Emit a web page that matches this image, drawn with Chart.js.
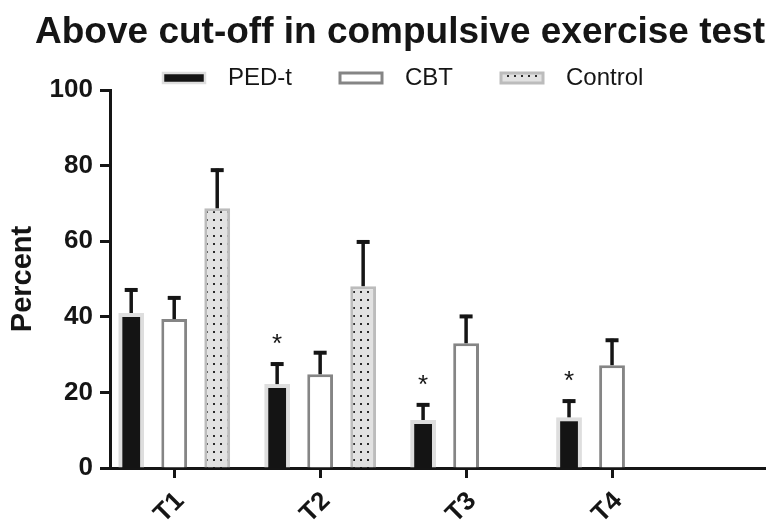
<!DOCTYPE html>
<html>
<head>
<meta charset="utf-8">
<script src="https://cdn.jsdelivr.net/npm/chart.js@4.4.1/dist/chart.umd.min.js"></script>
<style>
  html, body { margin: 0; padding: 0; background: #fff; }
  #wrap { width: 766px; height: 520px; }
</style>
</head>
<body>
<div id="wrap"><canvas id="chart"></canvas></div>
<script>
// values (percent above cut-off, error = SEM above the bar)
var timepoints = ['T1', 'T2', 'T3', 'T4'];
var seriesNames = ['PED-t', 'CBT', 'Control'];
var pedT = [41.0, 22.2, 12.7, 13.4];
var pedTErr = [6.1, 5.3, 4.0, 4.3];
var cbt = [39.4, 24.8, 33.0, 27.2];
var cbtErr = [5.6, 5.7, 7.1, 6.6];
var control = [68.7, 48.1, null, null];
var controlErr = [10.1, 11.7, null, null];
var pedStars = [false, true, true, true];
var yTickValues = [0, 20, 40, 60, 80, 100];

var ink = '#151515';
var font = '"Liberation Sans", Arial, Helvetica, sans-serif';

function dots() {
  var c = document.createElement('canvas');
  c.width = 7; c.height = 8;
  var g = c.getContext('2d');
  g.fillStyle = '#e2e2e2';
  g.fillRect(0, 0, 7, 8);
  g.fillStyle = '#2a2a2a';
  g.fillRect(3, 3, 2, 2);
  return g.createPattern(c, 'repeat');
}
var dotFill = dots();

function pts(arr) {
  return arr.map(function (v, i) { return { x: i, y: v }; });
}

var styles = [
  { fill: '#141414', stroke: '#dedede', width: 4 },
  { fill: '#ffffff', stroke: '#858585', width: 3 },
  { fill: dotFill, stroke: '#bcbcbc', width: 3 }
];

var errorBars = {
  id: 'errorBars',
  afterDatasetsDraw: function (chart) {
    var ctx = chart.ctx, ys = chart.scales.y;
    chart.data.datasets.forEach(function (ds, di) {
      var meta = chart.getDatasetMeta(di);
      meta.data.forEach(function (bar, i) {
        var v = ds.data[i].y, e = ds.errors[i];
        if (v == null || e == null) return;
        var top = ys.getPixelForValue(v + e);
        ctx.save();
        ctx.strokeStyle = ink;
        ctx.lineWidth = 3.5;
        ctx.beginPath();
        ctx.moveTo(bar.x, bar.y);
        ctx.lineTo(bar.x, top - 1.5);
        ctx.stroke();
        ctx.lineWidth = 4;
        ctx.beginPath();
        ctx.moveTo(bar.x - 6.5, top);
        ctx.lineTo(bar.x + 6.5, top);
        ctx.stroke();
        if (ds.stars && ds.stars[i]) {
          ctx.fillStyle = ink;
          ctx.font = '26px ' + font;
          ctx.textAlign = 'center';
          ctx.textBaseline = 'alphabetic';
          ctx.fillText('*', bar.x, top - 12);
        }
        ctx.restore();
      });
    });
  }
};

var titleLegend = {
  id: 'titleLegend',
  afterDraw: function (chart) {
    var ctx = chart.ctx;
    ctx.save();
    ctx.fillStyle = ink;
    ctx.font = 'bold 37px ' + font;
    ctx.textAlign = 'center';
    ctx.textBaseline = 'alphabetic';
    ctx.fillText('Above cut-off in compulsive exercise test', 400, 43);

    ctx.font = '24px ' + font;
    ctx.textAlign = 'left';
    ctx.textBaseline = 'middle';
    var x = 163;
    seriesNames.forEach(function (name, i) {
      var s = styles[i];
      ctx.fillStyle = s.fill;
      ctx.fillRect(x, 73, 42, 10);
      ctx.strokeStyle = s.stroke;
      ctx.lineWidth = i === 0 ? 2.5 : 3;
      ctx.strokeRect(x, 73, 42, 10);
      ctx.fillStyle = ink;
      ctx.fillText(name, x + 65, 78);
      x += 65 + ctx.measureText(name).width + 48;
    });

    // rotated category labels under the x axis
    var xs = chart.scales.x;
    ctx.font = 'bold 26px ' + font;
    ctx.textAlign = 'right';
    ctx.textBaseline = 'middle';
    timepoints.forEach(function (lab, i) {
      ctx.save();
      ctx.translate(xs.getPixelForValue(i) + 6, xs.top + 29);
      ctx.rotate(-Math.PI / 4);
      ctx.fillText(lab, 0, 0);
      ctx.restore();
    });
    ctx.restore();
  }
};

var series = [pedT, cbt, control];
var errs = [pedTErr, cbtErr, controlErr];

new Chart(document.getElementById('chart'), {
  type: 'bar',
  data: {
    datasets: series.map(function (vals, i) {
      return {
        label: seriesNames[i],
        data: pts(vals),
        errors: errs[i],
        stars: i === 0 ? pedStars : null,
        backgroundColor: styles[i].fill,
        borderColor: styles[i].stroke,
        borderWidth: styles[i].width,
        borderSkipped: 'start',
        barPercentage: 0.6,
        categoryPercentage: 0.884
      };
    })
  },
  options: {
    responsive: true,
    maintainAspectRatio: false,
    animation: false,
    layout: { padding: { top: 90, left: 0, right: 0, bottom: 0 } },
    plugins: {
      legend: { display: false },
      title: { display: false },
      tooltip: { enabled: false }
    },
    scales: {
      x: {
        type: 'linear',
        min: -0.44,
        max: 4.055,
        offset: false,
        z: 1,
        afterBuildTicks: function (s) {
          s.ticks = timepoints.map(function (_, i) { return { value: i }; });
        },
        afterFit: function (s) { s.height = 52; },
        ticks: { display: false },
        grid: { offset: false, drawOnChartArea: false, drawTicks: true, tickLength: 10, tickWidth: 3, tickColor: ink },
        border: { display: true, width: 3, color: ink }
      },
      y: {
        min: 0,
        max: 100,
        z: 1,
        afterBuildTicks: function (s) {
          s.ticks = yTickValues.map(function (v) { return { value: v }; });
        },
        afterFit: function (s) { s.width = 110; },
        ticks: {
          padding: 7,
          color: ink,
          font: { family: font, size: 26, weight: 'bold' }
        },
        title: {
          display: true,
          text: 'Percent',
          color: ink,
          padding: { top: 6, bottom: 0 },
          font: { family: font, size: 29, weight: 'bold' }
        },
        grid: { drawOnChartArea: false, drawTicks: true, tickLength: 10, tickWidth: 3, tickColor: ink },
        border: { display: true, width: 3, color: ink }
      }
    }
  },
  plugins: [errorBars, titleLegend]
});
</script>
</body>
</html>
